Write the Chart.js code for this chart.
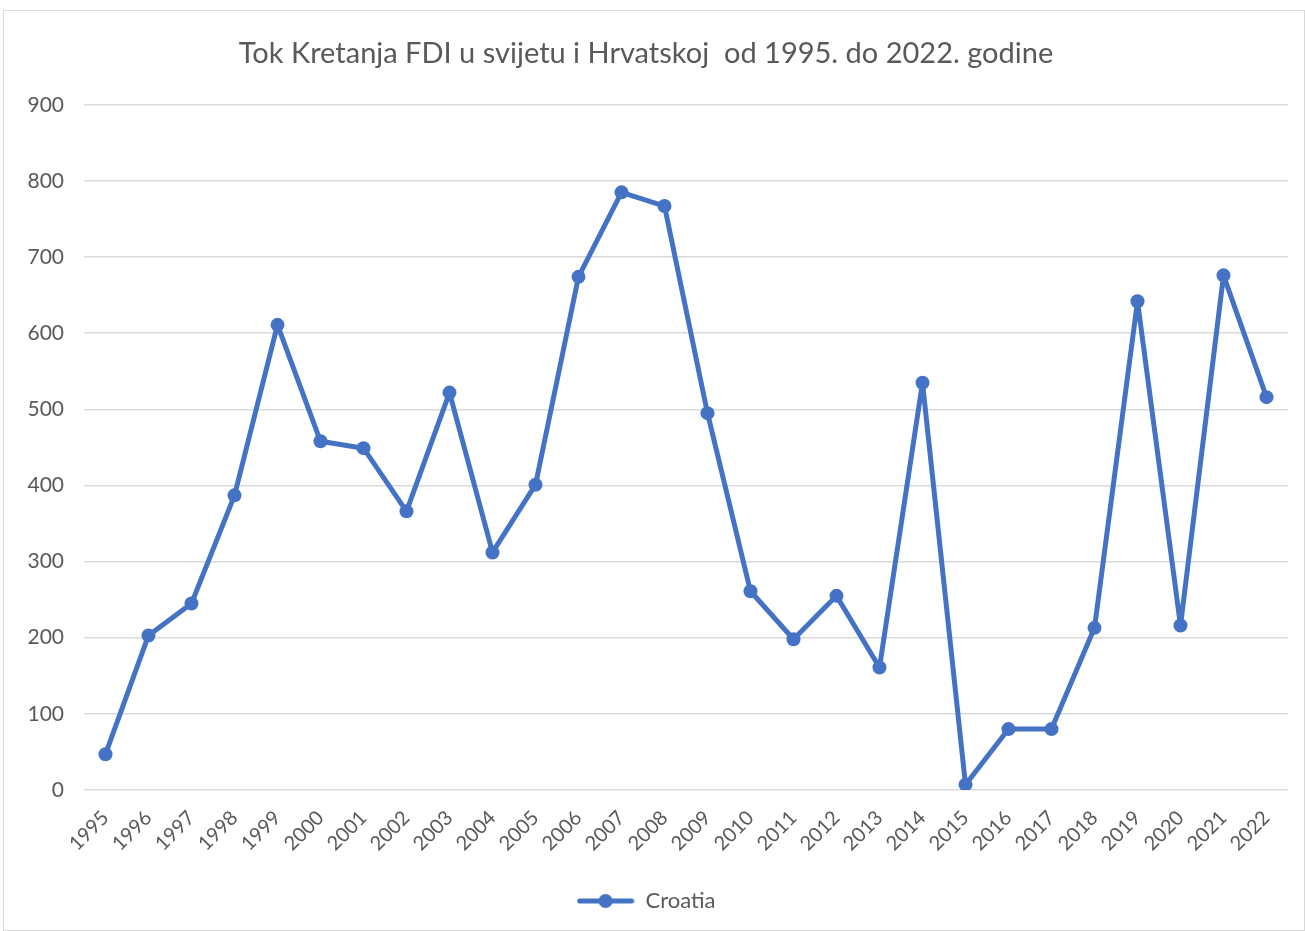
<!DOCTYPE html>
<html>
<head>
<meta charset="utf-8">
<script src="https://cdn.jsdelivr.net/npm/chart.js@4/dist/chart.umd.min.js"></script>
<style>
  html, body { margin: 0; padding: 0; background: #fff; }
  #box {
    position: absolute; left: 3px; top: 10px;
    width: 1300px; height: 919px;
    border: 1px solid #d9d9d9;
  }
</style>
</head>
<body>
<div id="box"><canvas id="myChart" width="1300" height="919"></canvas></div>
<script>
const years = [
    '1995', '1996', '1997', '1998', '1999', '2000', '2001', '2002', '2003', '2004',
    '2005', '2006', '2007', '2008', '2009', '2010', '2011', '2012', '2013', '2014',
    '2015', '2016', '2017', '2018', '2019', '2020', '2021', '2022'
];
const croatia = [
    47, 203, 245, 387, 611, 458, 449, 366, 522, 312,
    401, 674, 785, 767, 495, 261, 198, 255, 161, 535,
    7, 80, 80, 213, 642, 216, 676, 516
];
const yTicks = [0, 100, 200, 300, 400, 500, 600, 700, 800, 900];

const blue = '#4472c4';
const grey = '#595959';
const fontFamily = 'Lato, "Open Sans", sans-serif';

// legend marker: line with a dot in the middle, like the Excel one
const marker = document.createElement('canvas');
marker.width = 58;
marker.height = 16;
const mctx = marker.getContext('2d');
mctx.strokeStyle = blue;
mctx.lineWidth = 5;
mctx.lineCap = 'round';
mctx.beginPath();
mctx.moveTo(3, 8);
mctx.lineTo(55, 8);
mctx.stroke();
mctx.fillStyle = blue;
mctx.beginPath();
mctx.arc(29, 8, 7, 0, Math.PI * 2);
mctx.fill();

const data = {
    labels: years,
    datasets: [{
        label: 'Croatia',
        data: croatia,
        borderColor: blue,
        backgroundColor: blue,
        borderWidth: 5,
        borderJoinStyle: 'round',
        borderCapStyle: 'round',
        pointRadius: 7,
        pointHoverRadius: 7,
        pointBackgroundColor: blue,
        pointBorderWidth: 0,
        pointStyle: 'circle',
        tension: 0
    }]
};

const config = {
    type: 'line',
    data: data,
    options: {
        responsive: false,
        animation: false,
        layout: {
            padding: { left: 0, right: 16, top: 0, bottom: 8 }
        },
        plugins: {
            title: {
                display: true,
                text: 'Tok Kretanja FDI u svijetu i Hrvatskoj  od 1995. do 2022. godine',
                color: grey,
                font: { family: fontFamily, size: 29, weight: 'normal' },
                padding: { top: 25, bottom: 34 }
            },
            legend: {
                display: true,
                position: 'bottom',
                labels: {
                    color: grey,
                    font: { family: fontFamily, size: 22 },
                    usePointStyle: true,
                    pointStyle: marker,
                    pointStyleWidth: 58,
                    padding: 12
                }
            },
            tooltip: { enabled: false }
        },
        scales: {
            x: {
                offset: true,
                grid: { display: false, drawTicks: false },
                border: { display: false },
                ticks: {
                    color: grey,
                    font: { family: fontFamily, size: 20 },
                    maxRotation: 45,
                    minRotation: 45,
                    autoSkip: false,
                    padding: 16
                },
                afterFit: function (scale) { scale.height = 88; }
            },
            y: {
                min: 0,
                max: 900,
                afterBuildTicks: function (scale) {
                    scale.ticks = yTicks.map(v => ({ value: v }));
                },
                grid: { color: '#d9d9d9', lineWidth: 1.5, drawTicks: false },
                border: { display: false },
                ticks: {
                    color: grey,
                    font: { family: fontFamily, size: 21 },
                    padding: 20
                },
                afterFit: function (scale) { scale.width = 80; }
            }
        }
    }
};

let myChart = new Chart(document.getElementById('myChart'), config);
</script>
</body>
</html>
